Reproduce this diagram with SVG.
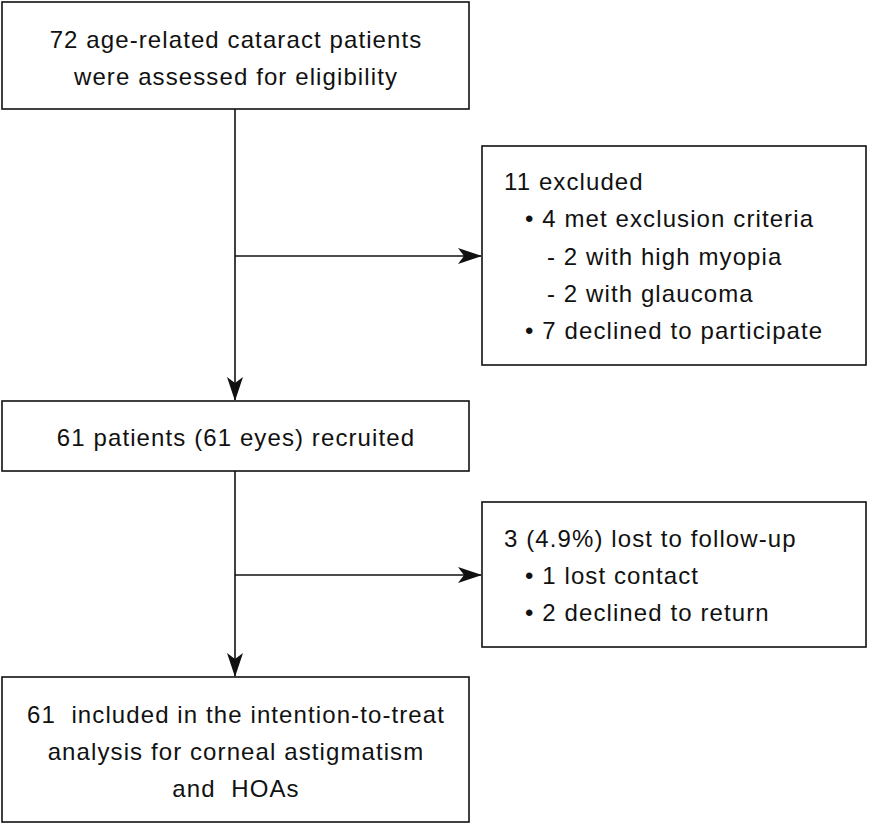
<svg xmlns="http://www.w3.org/2000/svg" width="869" height="825" viewBox="0 0 869 825">
<style>
.box{fill:#fff;stroke:#111;stroke-width:1.6}
.t{font-family:"Liberation Sans",Arial,sans-serif;font-size:24px;letter-spacing:1.1px;fill:#111;white-space:pre}
.c{text-anchor:middle}
.ln{stroke:#111;stroke-width:1.6;fill:none}
</style>
<defs>
<marker id="ah" viewBox="0 0 24 16" refX="23" refY="8" markerWidth="24" markerHeight="16" markerUnits="userSpaceOnUse" orient="auto">
<path d="M0,0 L24,8 L0,16 L6,8 Z" fill="#111"/>
</marker>
</defs>
<rect width="869" height="825" fill="#fff"/>
<g id="connectors">
<line class="ln" x1="235" y1="109" x2="235" y2="400" marker-end="url(#ah)"/>
<line class="ln" x1="235" y1="256" x2="481" y2="256" marker-end="url(#ah)"/>
<line class="ln" x1="235" y1="471" x2="235" y2="676" marker-end="url(#ah)"/>
<line class="ln" x1="235" y1="575" x2="481" y2="575" marker-end="url(#ah)"/>
</g>
<g id="assessed">
<rect class="box" x="2" y="2" width="467" height="107"/>
<text class="t c" x="236" y="48">72 age-related cataract patients</text>
<text class="t c" x="236" y="85">were assessed for eligibility</text>
</g>
<g id="excluded">
<rect class="box" x="482" y="146" width="384" height="219"/>
<text class="t" x="504" y="190">11 excluded</text>
<text class="t" x="525" y="227">• 4 met exclusion criteria</text>
<text class="t" x="547" y="265">- 2 with high myopia</text>
<text class="t" x="547" y="302">- 2 with glaucoma</text>
<text class="t" x="525" y="339">• 7 declined to participate</text>
</g>
<g id="recruited">
<rect class="box" x="2" y="401" width="467" height="70"/>
<text class="t c" x="236" y="446">61 patients (61 eyes) recruited</text>
</g>
<g id="lost">
<rect class="box" x="482" y="502" width="384" height="145"/>
<text class="t" x="504" y="547">3 (4.9%) lost to follow-up</text>
<text class="t" x="525" y="584">• 1 lost contact</text>
<text class="t" x="525" y="621">• 2 declined to return</text>
</g>
<g id="analysis">
<rect class="box" x="2" y="677" width="467" height="145"/>
<text class="t c" x="236" y="723">61  included in the intention-to-treat</text>
<text class="t c" x="236" y="760">analysis for corneal astigmatism</text>
<text class="t c" x="236" y="797">and  HOAs</text>
</g>
</svg>
